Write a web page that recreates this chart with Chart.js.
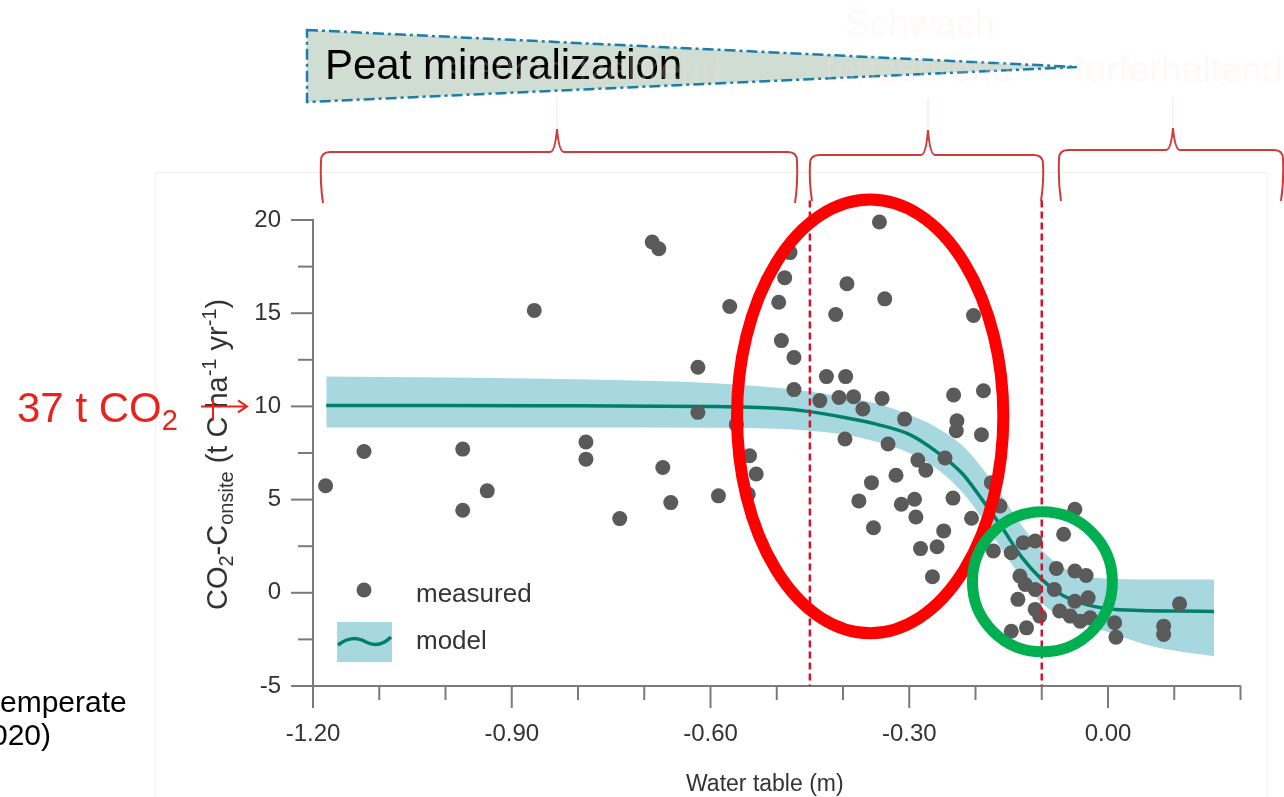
<!DOCTYPE html>
<html>
<head>
<meta charset="utf-8">
<title>CO2 vs water table</title>
<script src="https://cdn.jsdelivr.net/npm/chart.js@4.4.1/dist/chart.umd.min.js"></script>
<style>
  html, body { margin: 0; padding: 0; background: #fff; }
  #wrap { position: relative; width: 1284px; height: 797px; }
</style>
</head>
<body>
<div id="wrap"><canvas id="peatChart" width="1284" height="797"></canvas></div>
<script>
// measured CO2-C (water table in m, flux in t C / ha / yr)
var measuredX = [-1.181, -1.123, -0.974, -0.937, -0.866, -0.788, -0.788, -0.688, -0.678, -0.619,
  -0.619, -0.571, -0.672, -0.588, -0.660, -0.974, -0.737, -0.541, -0.531, -0.543,
  -0.561, -0.480, -0.488, -0.497, -0.493, -0.474, -0.474, -0.435, -0.345, -0.394,
  -0.337, -0.411, -0.203, -0.425, -0.396, -0.406, -0.384, -0.370, -0.341, -0.307,
  -0.233, -0.188, -0.228, -0.229, -0.397, -0.332, -0.287, -0.275, -0.246, -0.191,
  -0.357, -0.320, -0.376, -0.312, -0.292, -0.290, -0.234, -0.354, -0.248, -0.206,
  -0.283, -0.258, -0.265, -0.173, -0.176, -0.163, -0.146, -0.128, -0.110, -0.050,
  -0.067, -0.133, -0.125, -0.110, -0.136, -0.078, -0.050, -0.033, -0.081, -0.030,
  -0.050, -0.110, -0.103, -0.073, -0.057, -0.042, -0.027, -0.146, -0.123, 0.010,
  0.012, 0.084, 0.084, 0.108];
var measuredY = [5.74, 7.58, 7.71, 5.47, 15.15, 8.09, 7.17, 18.82, 18.46, 12.10,
  9.68, 15.36, 6.72, 5.20, 4.84, 4.43, 3.98, 7.35, 6.37, 5.29,
  9.02, 18.25, 16.90, 15.59, 13.53, 12.63, 10.90, 10.31, 19.89, 16.58,
  15.77, 14.93, 14.88, 11.60, 11.60, 10.48, 10.52, 9.86, 10.43, 9.32,
  10.61, 10.84, 9.23, 8.69, 8.25, 7.98, 7.12, 6.58, 7.23, 8.48,
  5.91, 6.31, 4.93, 4.75, 5.02, 4.07, 5.08, 3.49, 3.32, 4.00,
  2.37, 2.47, 0.86, 2.24, 5.91, 4.66, 2.15, 2.69, 2.78, 4.48,
  3.14, 0.90, 0.45, 0.18, -0.35, 1.31, 1.17, 0.93, 0.18, -0.27,
  -0.45, -0.89, -1.25, -0.98, -1.25, -1.52, -1.34, -2.06, -1.88, -1.61,
  -2.38, -1.79, -2.24, -0.59];

// fitted model and its band
var modelX = [-1.18, -1.0, -0.8, -0.6, -0.5, -0.45, -0.40, -0.35, -0.30, -0.26, -0.22,
  -0.19, -0.16, -0.13, -0.10, -0.07, -0.04, 0.0, 0.05, 0.10, 0.16];
var modelY = [10.05, 10.05, 10.03, 10.0, 9.9, 9.72, 9.42, 9.05, 8.5, 7.6, 6.4,
  5.0, 3.5, 1.9, 0.72, -0.1, -0.55, -0.85, -0.95, -0.98, -1.0];
var bandHigh = [11.6, 11.55, 11.45, 11.25, 11.0, 10.8, 10.5, 10.15, 9.55, 8.9, 7.9,
  6.7, 5.2, 3.6, 2.3, 1.4, 0.95, 0.75, 0.72, 0.72, 0.72];
var bandLow = [8.87, 8.87, 8.87, 8.85, 8.8, 8.7, 8.5, 8.1, 7.5, 6.7, 5.4,
  4.0, 2.3, 0.8, -0.55, -1.3, -1.7, -2.1, -2.7, -3.1, -3.4];

var xTickLabels = ['-1.20', '-0.90', '-0.60', '-0.30', '0.00'];
var yTickLabels = ['-5', '0', '5', '10', '15', '20'];
var zoneLines = [-0.45, -0.10];

var FONT = '"Liberation Sans", Arial, sans-serif';
var TEXT = '#333333';
var AXIS = '#7a7a7a';
var BAND = '#a7d8df';
var LINE = '#00806b';
var DOT = '#5a5a5a';

function toPoints(xs, ys) {
  var out = [];
  for (var i = 0; i < xs.length; i++) {
    out.push({x: xs[i], y: ys[i]});
  }
  return out;
}

// draws text made of pieces with different size / baseline shift
function drawRich(ctx, parts, x, y) {
  for (var i = 0; i < parts.length; i++) {
    var p = parts[i];
    ctx.font = p.size + 'px ' + FONT;
    ctx.fillText(p.t, x, y + p.dy);
    x += ctx.measureText(p.t).width;
  }
}

function brace(ctx, x0, x1, xt, yh, yt, yb) {
  ctx.beginPath();
  ctx.moveTo(x0 + 2, yb);
  ctx.quadraticCurveTo(x0 - 1, yb - 20, x0, yh + 9);
  ctx.quadraticCurveTo(x0, yh, x0 + 9, yh);
  ctx.lineTo(xt - 7, yh);
  ctx.quadraticCurveTo(xt - 2, yh, xt, yt);
  ctx.quadraticCurveTo(xt + 2, yh, xt + 7, yh);
  ctx.lineTo(x1 - 9, yh);
  ctx.quadraticCurveTo(x1, yh, x1, yh + 9);
  ctx.quadraticCurveTo(x1 + 1, yb - 20, x1 - 2, yb);
  ctx.stroke();
}

var overlays = {
  id: 'overlays',
  beforeDraw: function(chart) {
    var ctx = chart.ctx;
    ctx.save();
    ctx.fillStyle = '#fff';
    ctx.fillRect(0, 0, chart.width, chart.height);

    // faint frame of the pasted figure
    ctx.strokeStyle = '#f1f1f1';
    ctx.lineWidth = 1;
    ctx.strokeRect(155.5, 172.5, 1112, 640);

    // wedge
    ctx.beginPath();
    ctx.moveTo(307, 30);
    ctx.lineTo(1077, 67);
    ctx.lineTo(307, 102);
    ctx.closePath();
    ctx.fillStyle = '#cfddd3';
    ctx.fill();
    ctx.setLineDash([11, 4, 3, 4]);
    ctx.strokeStyle = '#1b7ea6';
    ctx.lineWidth = 2.5;
    ctx.stroke();
    ctx.setLineDash([]);

    ctx.fillStyle = '#000';
    ctx.font = '42px ' + FONT;
    ctx.textBaseline = 'alphabetic';
    ctx.fillText('Peat mineralization', 325, 79);

    // ghost text of the slide underneath
    ctx.fillStyle = 'rgba(255,225,225,0.22)';
    ctx.font = '37px ' + FONT;
    ctx.fillText('Schwach', 845, 36);
    ctx.fillText('torfzehrend', 825, 82);
    ctx.fillText('torferhaltend', 1075, 82);
    ctx.textAlign = 'right';
    ctx.fillText('stark torfzehrend', 722, 82);
    ctx.textAlign = 'left';

    ctx.strokeStyle = 'rgba(240,190,190,0.3)';
    ctx.lineWidth = 1.5;
    [557, 928, 1173].forEach(function(x) {
      ctx.beginPath();
      ctx.moveTo(x, 98);
      ctx.lineTo(x, 128);
      ctx.stroke();
    });

    ctx.strokeStyle = '#cf3a3a';
    ctx.lineWidth = 2;
    brace(ctx, 321, 797, 557, 152, 129, 203);
    brace(ctx, 810, 1043, 928, 155, 130, 201);
    brace(ctx, 1059, 1283, 1173, 150, 128, 201);
    ctx.restore();
  },
  afterDatasetsDraw: function(chart) {
    var ctx = chart.ctx;
    var xs = chart.scales.x, ys = chart.scales.y;
    ctx.save();
    // zone borders
    ctx.strokeStyle = '#d3142c';
    ctx.lineWidth = 2.5;
    ctx.setLineDash([7, 4]);
    zoneLines.forEach(function(v) {
      var px = xs.getPixelForValue(v);
      ctx.beginPath();
      ctx.moveTo(px, ys.getPixelForValue(21.05));
      ctx.lineTo(px, ys.getPixelForValue(-5));
      ctx.stroke();
    });
    ctx.setLineDash([]);

    // red ellipse (strong mineralization) and green circle (near zero)
    var ex0 = xs.getPixelForValue(-0.56), ex1 = xs.getPixelForValue(-0.158);
    var ey0 = ys.getPixelForValue(21.1), ey1 = ys.getPixelForValue(-2.17);
    ctx.strokeStyle = '#ff0000';
    ctx.lineWidth = 12;
    ctx.beginPath();
    ctx.ellipse((ex0 + ex1) / 2, (ey0 + ey1) / 2, (ex1 - ex0) / 2, (ey1 - ey0) / 2, 0, 0, Math.PI * 2);
    ctx.stroke();

    var cx = xs.getPixelForValue(-0.099), cy = ys.getPixelForValue(0.59);
    ctx.strokeStyle = '#00b050';
    ctx.lineWidth = 11;
    ctx.beginPath();
    ctx.ellipse(cx, cy, 70, 70, 0, 0, Math.PI * 2);
    ctx.stroke();
    ctx.restore();
  },
  afterDraw: function(chart) {
    var ctx = chart.ctx;
    var xs = chart.scales.x, ys = chart.scales.y;
    var area = chart.chartArea;
    ctx.save();

    // tick marks, long for labelled ticks
    ctx.strokeStyle = AXIS;
    ctx.lineWidth = 2;
    xs.ticks.forEach(function(t) {
      var px = xs.getPixelForValue(t.value);
      var len = t.label ? 22 : 14;
      ctx.beginPath();
      ctx.moveTo(px, area.bottom);
      ctx.lineTo(px, area.bottom + len);
      ctx.stroke();
    });
    ys.ticks.forEach(function(t) {
      var py = ys.getPixelForValue(t.value);
      var len = t.label ? 22 : 15;
      ctx.beginPath();
      ctx.moveTo(area.left, py);
      ctx.lineTo(area.left - len, py);
      ctx.stroke();
    });

    // axis titles
    ctx.fillStyle = TEXT;
    ctx.textBaseline = 'alphabetic';
    ctx.font = '23px ' + FONT;
    ctx.fillText('Water table (m)', 686, 791);

    ctx.save();
    ctx.translate(227, 610);
    ctx.rotate(-Math.PI / 2);
    drawRich(ctx, [
      {t: 'CO', size: 29, dy: 0}, {t: '2', size: 20, dy: 6},
      {t: '-C', size: 29, dy: 0}, {t: 'onsite', size: 20, dy: 6},
      {t: ' (t C ha', size: 29, dy: 0}, {t: '-1', size: 20, dy: -11},
      {t: ' yr', size: 29, dy: 0}, {t: '-1', size: 20, dy: -11},
      {t: ')', size: 29, dy: 0}
    ], 0, 0);
    ctx.restore();

    // legend
    ctx.fillStyle = DOT;
    ctx.beginPath();
    ctx.arc(364, 590, 7.5, 0, Math.PI * 2);
    ctx.fill();
    ctx.fillStyle = BAND;
    ctx.fillRect(337, 622, 55, 40);
    ctx.strokeStyle = LINE;
    ctx.lineWidth = 3.5;
    ctx.beginPath();
    ctx.moveTo(338, 645);
    ctx.bezierCurveTo(350, 636, 358, 638, 366, 642);
    ctx.bezierCurveTo(376, 647, 384, 644, 391, 637);
    ctx.stroke();
    ctx.fillStyle = TEXT;
    ctx.font = '26px ' + FONT;
    ctx.fillText('measured', 416, 602);
    ctx.fillText('model', 416, 649);

    // 37 t CO2 arrow at the plateau value
    ctx.fillStyle = '#e8221d';
    drawRich(ctx, [{t: '37 t CO', size: 42, dy: 0}, {t: '2', size: 29, dy: 8}], 17, 422);
    var yTen = ys.getPixelForValue(10);
    ctx.strokeStyle = '#e8221d';
    ctx.lineWidth = 2;
    ctx.beginPath();
    ctx.moveTo(201, yTen);
    ctx.lineTo(247, yTen);
    ctx.moveTo(238, yTen - 6);
    ctx.lineTo(247, yTen);
    ctx.lineTo(238, yTen + 6);
    ctx.moveTo(213, yTen - 8);
    ctx.lineTo(213, yTen + 14);
    ctx.stroke();

    // cut-off caption on the left
    ctx.fillStyle = '#000';
    ctx.font = '30px ' + FONT;
    ctx.fillText('emperate', 0, 712);
    ctx.fillText('020)', -9, 745);
    ctx.restore();
  }
};

var ctx = document.getElementById('peatChart');
var peatChart = new Chart(ctx, {
  type: 'scatter',
  data: {
    datasets: [
      {
        label: 'measured',
        data: toPoints(measuredX, measuredY),
        backgroundColor: DOT,
        borderWidth: 0,
        pointRadius: 7.5,
        clip: false,
        order: 0
      },
      {
        type: 'line',
        label: 'model',
        data: toPoints(modelX, modelY),
        borderColor: LINE,
        borderWidth: 3.5,
        pointRadius: 0,
        cubicInterpolationMode: 'monotone',
        fill: false,
        order: 1
      },
      {
        type: 'line',
        label: 'band high',
        data: toPoints(modelX, bandHigh),
        borderWidth: 0,
        pointRadius: 0,
        backgroundColor: BAND,
        cubicInterpolationMode: 'monotone',
        fill: '+1',
        order: 2
      },
      {
        type: 'line',
        label: 'band low',
        data: toPoints(modelX, bandLow),
        borderWidth: 0,
        pointRadius: 0,
        cubicInterpolationMode: 'monotone',
        fill: false,
        order: 3
      }
    ]
  },
  options: {
    responsive: false,
    animation: false,
    events: [],
    devicePixelRatio: 1,
    layout: { padding: { left: 0, top: 220, right: 43.5, bottom: 0 } },
    plugins: { legend: { display: false }, tooltip: { enabled: false } },
    scales: {
      x: {
        type: 'linear',
        min: -1.2,
        max: 0.2,
        afterFit: function(s) { s.height = 111; },
        ticks: {
          stepSize: 0.1,
          padding: 12,
          color: TEXT,
          font: { family: FONT, size: 24 },
          maxRotation: 0,
          autoSkip: false,
          callback: function(v) {
            var s = Number(v).toFixed(2);
            if (s === '-0.00') s = '0.00';
            return xTickLabels.indexOf(s) >= 0 ? s : '';
          }
        },
        grid: { drawOnChartArea: false, tickLength: 22, color: 'rgba(0,0,0,0)' },
        border: { display: true, color: AXIS, width: 2 }
      },
      y: {
        min: -5,
        max: 20,
        afterFit: function(s) { s.width = 313; },
        ticks: {
          stepSize: 2.5,
          padding: 10,
          color: TEXT,
          font: { family: FONT, size: 24 },
          autoSkip: false,
          callback: function(v) {
            var s = String(v);
            return yTickLabels.indexOf(s) >= 0 ? s : '';
          }
        },
        grid: { drawOnChartArea: false, tickLength: 22, color: 'rgba(0,0,0,0)' },
        border: { display: true, color: AXIS, width: 2 }
      }
    }
  },
  plugins: [overlays]
});
</script>
</body>
</html>
